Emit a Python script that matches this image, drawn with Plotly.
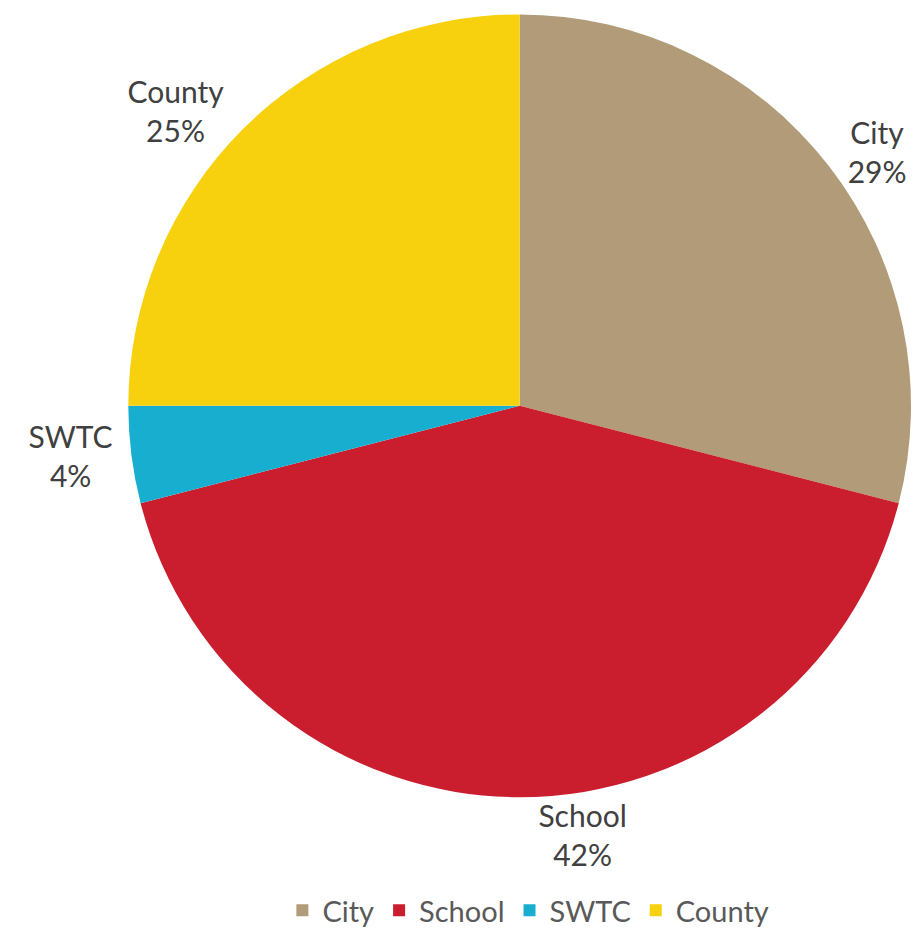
import plotly.graph_objects as go

labels = ["City", "School", "SWTC", "County"]
values = [29, 42, 4, 25]
colors = ["#B19B78", "#CA1E2E", "#17AECF", "#F8D10E"]

fig = go.Figure(
    go.Pie(
        labels=labels,
        values=values,
        sort=False,
        direction="clockwise",
        rotation=0,
        marker=dict(colors=colors, line=dict(width=0)),
        textinfo="label+percent",
        textposition="outside",
        textfont=dict(family="Lato", size=30, color="#404040"),
        showlegend=True,
        domain=dict(x=[129 / 916, 1.0], y=[0.1442, 0.9947]),
        hoverinfo="label+percent",
    )
)

fig.update_layout(
    width=916,
    height=936,
    margin=dict(l=0, r=0, t=0, b=0),
    paper_bgcolor="white",
    plot_bgcolor="white",
    font=dict(family="Lato", color="#404040"),
    legend=dict(
        orientation="h",
        x=0.58,
        xanchor="center",
        y=0.0,
        yanchor="bottom",
        font=dict(family="Lato", size=29, color="#595959"),
        traceorder="normal",
        itemwidth=30,
    ),
)

fig.write_html("out.html")
